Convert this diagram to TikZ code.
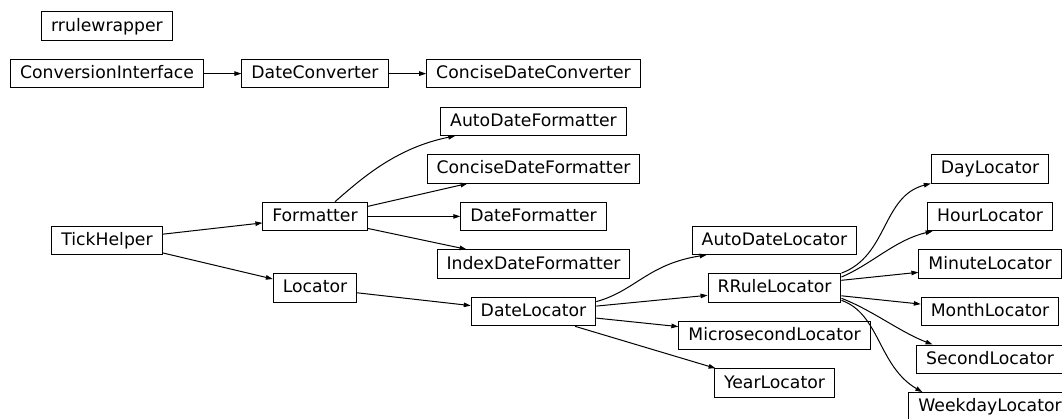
\documentclass[tikz,border=0pt]{standalone}
\usepackage{fontspec}
\setmainfont{DejaVu Sans}
\usetikzlibrary{arrows.meta}
\tikzset{
  cls/.style={draw=black, line width=1pt, inner xsep=9.5pt, inner ysep=0pt,
    minimum height=28.4pt, text height=13.5pt, text depth=3.5pt,
    font=\fontsize{17.25}{20}\selectfont},
  inh/.style={draw=black, line width=1pt, -{Triangle[length=7pt,width=4.5pt]}}
}
\begin{document}
\begin{tikzpicture}[x=1pt,y=-1pt]
\useasboundingbox (0,0) rectangle (1062,418);
% rank 0
\node[cls] (rw)   at (107,26)    {rrulewrapper};
\node[cls] (ci)   at (107,73.6)  {ConversionInterface};
\node[cls] (tick) at (107,240.2) {TickHelper};
% rank 1
\node[cls] (dc)   at (315,73.6)  {DateConverter};
\node[cls] (form) at (315,216.4) {Formatter};
\node[cls] (loc)  at (315,287.8) {Locator};
% rank 2
\node[cls] (cdc)  at (533.5,73.6)  {ConciseDateConverter};
\node[cls] (adf)  at (533.5,121.2) {AutoDateFormatter};
\node[cls] (cdf)  at (533.5,168.8) {ConciseDateFormatter};
\node[cls] (df)   at (533.5,216.4) {DateFormatter};
\node[cls] (idf)  at (533.5,264)   {IndexDateFormatter};
\node[cls] (dl)   at (533.5,311.6) {DateLocator};
% rank 3
\node[cls] (adl)  at (774.5,240.2) {AutoDateLocator};
\node[cls] (rrl)  at (774.5,287.8) {RRuleLocator};
\node[cls] (msl)  at (774.5,335.4) {MicrosecondLocator};
\node[cls] (yl)   at (774.5,383)   {YearLocator};
% rank 4
\node[cls] (dayl)  at (990,168.8) {DayLocator};
\node[cls] (hourl) at (990,216.4) {HourLocator};
\node[cls] (minl)  at (990,264)   {MinuteLocator};
\node[cls] (monl)  at (990,311.6) {MonthLocator};
\node[cls] (secl)  at (990,359.2) {SecondLocator};
\node[cls] (wdl)   at (990,406.8) {WeekdayLocator};
% edges
\draw[inh] (ci.east) -- (dc.west);
\draw[inh] (dc.east) -- (cdc.west);
\draw[inh] ([xshift=20pt]form.north) .. controls (360,180) and (395,148) .. ([xshift=15pt]adf.south west);
\draw[inh] ([yshift=10pt]form.east) -- ([xshift=41pt]cdf.south west);
\draw[inh] (form.east) -- (df.west);
\draw[inh] ([yshift=-12pt]form.east) -- ([xshift=30pt]idf.north west);
\draw[inh] ([yshift=6pt]tick.east) -- ([yshift=-6.5pt]form.west);
\draw[inh] ([yshift=-12.7pt]tick.east) -- ([yshift=8.8pt]loc.west);
\draw[inh] ([yshift=-5pt]loc.east) -- ([yshift=6pt]dl.west);
\draw[inh] ([yshift=10pt]dl.east) .. controls (635,291) and (648,264) .. ([xshift=15pt]adl.south west);
\draw[inh] ([yshift=5.5pt]dl.east) -- ([yshift=-7.5pt]rrl.west);
\draw[inh] ([yshift=-6.5pt]dl.east) -- ([yshift=8.8pt]msl.west);
\draw[inh] ([xshift=41.5pt]dl.south) -- ([xshift=1.5pt]yl.north west);
\draw[inh] (rrl.north east) .. controls (888,256) and (882,196) .. (dayl.south west);
\draw[inh] ([yshift=10.8pt]rrl.east) .. controls (872,264) and (895,240) .. ([xshift=5.6pt]hourl.south west);
\draw[inh] ([yshift=7.5pt]rrl.east) -- ([yshift=-8.3pt]minl.west);
\draw[inh] ([yshift=-8pt]rrl.east) -- ([yshift=7.5pt]monl.west);
\draw[inh] ([yshift=-10.5pt]rrl.east) .. controls (872,310) and (900,332) .. ([xshift=16.5pt]secl.north west);
\draw[inh] ([yshift=-12.5pt]rrl.east) .. controls (880,314) and (878,366) .. ([xshift=14pt]wdl.north west);
\end{tikzpicture}
\end{document}
